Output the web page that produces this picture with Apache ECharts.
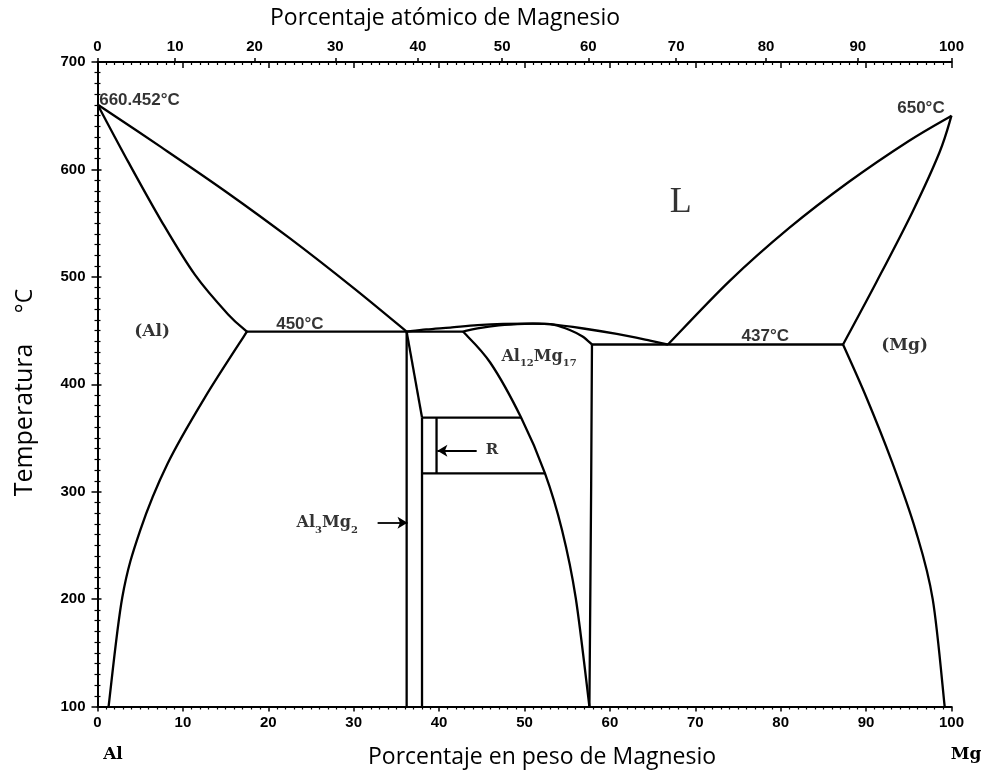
<!DOCTYPE html>
<html><head><meta charset="utf-8">
<script src="https://cdn.jsdelivr.net/npm/echarts@6/dist/echarts.min.js"></script>
<style>html,body{margin:0;padding:0;background:#fff}#c{width:988px;height:771px}</style>
</head><body><div id="c"></div>
<script>
// ---- data (wt% Mg, temperature °C) ----
const atTickLabels = [0,10,20,30,40,50,60,70,80,90,100];
const liquidusAl   = [[0,660.452],[7.5,620.5],[15,579.5],[22.5,536],[30,489.5],[36.2,449]];
const solidusAl    = [[0,660.452],[3.6,607],[7.55,551],[11.4,502],[15.3,465],[17.5,449]];
const solvusAl     = [[17.5,449],[12.6,388],[8.2,326],[5.0,264],[2.9,201.5],[1.3,100]];
const eutecticAl   = [[17.5,449],[36.2,449]];
const betaLeft     = [[36.2,449],[36.2,100]];
const betaSlope    = [[36.2,449],[38.0,369]];
const betaRight    = [[38.0,369],[38.0,100]];
const eutecticBG   = [[36.2,449],[42.8,449]];
const gammaLeft    = [[42.8,449],[46.0,420],[49.6,369],[52.4,317],[54.4,264],[56.0,201],[57.6,100]];
const gammaRight   = [[57.9,437],[57.8,300],[57.6,100]];
const liquidusGam  = [[36.2,449],[38.5,451],[41.3,452.8],[44.5,455],[47.5,456.2],[51.0,456.5],[53.0,456],[56.9,451.9],[60.8,446.8],[64.7,440.6],[66.8,437]];
const solidusGam   = [[42.8,449],[44.5,452],[47.0,454.8],[50.0,456.3],[52.0,456.3],[53.5,455.3],[55.3,450.5],[56.8,444.5],[57.9,437]];
const eutecticMg   = [[57.9,437],[87.3,437]];
const liquidusMg   = [[66.8,437],[74,496],[81,545.5],[88,588.5],[95,626.5],[100,650]];
const solidusMg    = [[87.3,437],[91.2,495],[95.4,560],[98.6,616],[100,650]];
const solvusMg     = [[87.3,437],[90,388.4],[93,328.4],[95.8,264],[97.8,200],[99.2,100]];
const rTop         = [[38.0,369],[49.6,369]];
const rBottom      = [[38.0,317],[52.4,317]];
const rLine        = [[39.7,369],[39.7,317]];

// ---- conversion atomic% <-> weight% ----
const M_MG = 24.305, M_AL = 26.982;
const atToWt = a => a*M_MG/(a*M_MG+(100-a)*M_AL)*100;
const wtToAt = w => (w/M_MG)/((w/M_MG)+((100-w)/M_AL))*100;

const curves = [
  [liquidusAl,1],[solidusAl,1],[solvusAl,1],[eutecticAl,0],[betaLeft,0],[betaSlope,0],[betaRight,0],
  [eutecticBG,0],[gammaLeft,1],[gammaRight,1],[liquidusGam,1],[solidusGam,1],[eutecticMg,0],
  [liquidusMg,1],[solidusMg,1],[solvusMg,1],[rTop,0],[rBottom,0],[rLine,0]
];

function pathFor(pts, smooth){
  let d = 'M'+pts[0][0]+','+pts[0][1];
  if(!smooth || pts.length===2){
    for(let i=1;i<pts.length;i++) d += 'L'+pts[i][0]+','+pts[i][1];
    return d;
  }
  const n = pts.length;
  for(let i=0;i<n-1;i++){
    const p0=pts[Math.max(i-1,0)], p1=pts[i], p2=pts[i+1], p3=pts[Math.min(i+2,n-1)];
    const c1=[p1[0]+(p2[0]-p0[0])/6, p1[1]+(p2[1]-p0[1])/6];
    const c2=[p2[0]-(p3[0]-p1[0])/6, p2[1]-(p3[1]-p1[1])/6];
    d += 'C'+c1[0]+','+c1[1]+' '+c2[0]+','+c2[1]+' '+p2[0]+','+p2[1];
  }
  return d;
}

const SANS = '"Liberation Sans", Arial, sans-serif';
const SERIF = '"DejaVu Serif", serif';
const TITLE = '"Open Sans", sans-serif';
const BLACK = '#000';

const series = [{
  type:'custom', coordinateSystem:'cartesian2d', silent:true, clip:false, z:3,
  encode:{x:0,y:1},
  data: curves.map((c,i)=>[c[0][0],c[0][1],i]),
  renderItem:(params, api)=>{
    const c = curves[params.dataIndex];
    const pts = c[0].map(p=>api.coord(p));
    return {type:'path', shape:{pathData:pathFor(pts,c[1])},
            style:{fill:'none',stroke:BLACK,lineWidth:2.3,lineJoin:'round'}};
  }
}];

// arrows
series.push({
  type:'line', data:[], silent:true,
  markLine:{
    silent:true, symbol:['none','arrow'], symbolSize:[9,10], animation:false,
    label:{show:false}, lineStyle:{color:BLACK,width:1.8,type:'solid'},
    data:[
      [{coord:[32.8,271]},{coord:[36.3,271]}],
      [{coord:[44.4,338]},{coord:[39.8,338]}]
    ]
  }
});

// text annotations anchored in data coords
const degStyle = {fontFamily:SANS,fontWeight:'bold',fontSize:17,color:BLACK};
const serifStyle = {fontFamily:SERIF,fontWeight:'bold',fontSize:17,color:BLACK};
const ann = [
  {value:[0.2,664], text:'660.452°C', st:degStyle, align:'left'},
  {value:[99.2,657], text:'650°C', st:degStyle, align:'right'},
  {value:[23.7,455.5], text:'450°C', st:degStyle, align:'center'},
  {value:[78.2,445], text:'437°C', st:degStyle, align:'center'},
  {value:[6.4,449], text:'(Al)', st:serifStyle, align:'center'},
  {value:[94.5,436], text:'(Mg)', st:serifStyle, align:'center'},
  {value:[68.3,569], text:'L', st:{fontFamily:'"Liberation Serif", serif',fontSize:36,color:BLACK}, align:'center'},
  {value:[46.2,339], text:'R', st:{fontFamily:SERIF,fontWeight:'bold',fontSize:15,color:BLACK}, align:'center'},
  {value:[51.7,424], text:'{a|Al}{s|12}{a|Mg}{s|17}', st:{}, align:'center', rich:true},
  {value:[26.9,269], text:'{a|Al}{s|3}{a|Mg}{s|2}', st:{}, align:'center', rich:true}
];
const richDef = {
  a:{fontFamily:SERIF,fontWeight:'bold',fontSize:16,color:BLACK,verticalAlign:'bottom',padding:[0,0,4,0]},
  s:{fontFamily:SERIF,fontWeight:'bold',fontSize:10,color:BLACK,verticalAlign:'bottom'}
};
series.push({
  type:'scatter', symbolSize:0, silent:true, clip:false, z:5,
  data: ann.map(a => ({
    value:a.value,
    label:Object.assign({show:true, position:'inside', formatter:a.text, align:a.align, verticalAlign:'middle'},
      a.st, a.rich ? {rich:richDef} : {})
  }))
});

const axisLabelStyle = {color:BLACK,fontFamily:SANS,fontWeight:'bold',fontSize:15};
const atTickWt = atTickLabels.map(atToWt);

const option = {
  animation:false,
  backgroundColor:'#fff',
  grid:{left:97.5,right:36.5,top:62,bottom:64.5,containLabel:false},
  xAxis:[
    {type:'value',position:'bottom',min:0,max:100,interval:10,
     axisLine:{lineStyle:{color:BLACK,width:2}},
     axisTick:{length:5,lineStyle:{color:BLACK,width:1.5}},
     minorTick:{show:true,splitNumber:10,length:3,lineStyle:{color:BLACK,width:1.2}},
     axisLabel:Object.assign({margin:9},axisLabelStyle),
     splitLine:{show:false}},
    {type:'value',position:'top',min:0,max:100,
     axisLine:{lineStyle:{color:BLACK,width:2}},
     axisTick:{customValues:atTickWt,length:4,lineStyle:{color:BLACK,width:1.5}},
     axisLabel:Object.assign({customValues:atTickWt,margin:8,formatter:v=>String(Math.round(wtToAt(v)))},axisLabelStyle),
     splitLine:{show:false}},
    {type:'value',position:'top',min:0,max:100,interval:10,
     axisLine:{show:false},
     axisTick:{inside:true,length:6,lineStyle:{color:BLACK,width:1.5}},
     minorTick:{show:true,splitNumber:10,length:3,lineStyle:{color:BLACK,width:1.2}},
     axisLabel:{show:false},splitLine:{show:false}}
  ],
  yAxis:[
    {type:'value',position:'left',min:100,max:700,interval:100,
     axisLine:{show:true,lineStyle:{color:BLACK,width:2}},
     axisTick:{show:true,length:6,lineStyle:{color:BLACK,width:1.5}},
     minorTick:{show:true,splitNumber:10,length:3,lineStyle:{color:BLACK,width:1.2}},
     axisLabel:Object.assign({margin:12},axisLabelStyle),
     splitLine:{show:false}},
    {type:'value',position:'right',min:100,max:700,interval:100,
     axisLine:{show:true,lineStyle:{color:BLACK,width:2}},
     axisTick:{show:true,length:4,lineStyle:{color:BLACK,width:1.5}},
     minorTick:{show:true,splitNumber:10,length:3,lineStyle:{color:BLACK,width:1.2}},
     axisLabel:{show:false},splitLine:{show:false}}
  ],
  graphic:[
    {type:'text',x:445,y:18,style:{text:'Porcentaje atómico de Magnesio',font:'23px '+TITLE,fill:BLACK,textAlign:'center',textVerticalAlign:'middle'}},
    {type:'text',x:542,y:757,style:{text:'Porcentaje en peso de Magnesio',font:'23px '+TITLE,fill:BLACK,textAlign:'center',textVerticalAlign:'middle'}},
    {type:'text',x:25,y:420,rotation:Math.PI/2,style:{text:'Temperatura',font:'25px '+TITLE,fill:BLACK,textAlign:'center',textVerticalAlign:'middle'}},
    {type:'text',x:25,y:301,rotation:Math.PI/2,style:{text:'°C',font:'23px '+TITLE,fill:BLACK,textAlign:'center',textVerticalAlign:'middle'}},
    {type:'text',x:113,y:755,style:{text:'Al',font:'bold 17px '+SERIF,fill:BLACK,textAlign:'center',textVerticalAlign:'middle'}},
    {type:'text',x:966,y:755,style:{text:'Mg',font:'bold 17px '+SERIF,fill:BLACK,textAlign:'center',textVerticalAlign:'middle'}}
  ],
  series:series
};
const chart = echarts.init(document.getElementById('c'),null,{renderer:'canvas'});
chart.setOption(option);
</script></body></html>
